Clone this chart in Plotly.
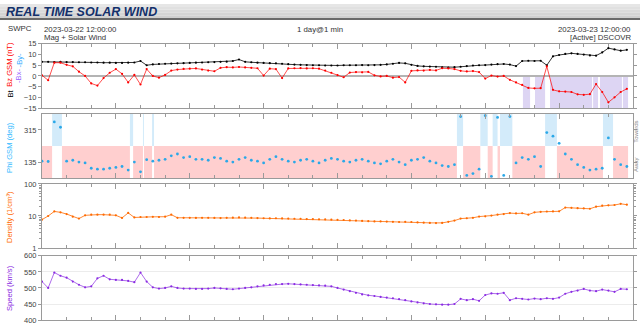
import pandas as pd
import plotly.graph_objects as go

# ---------------------------------------------------------------- data
START = "2023-03-22 12:00"
CADENCE = "15min"

bt = [6.6, 6.6, 6.5, 6.6, 6.5, 6.5, 6.4, 6.4, 6.3, 6.3,
      6.2, 6.2, 6.1, 6.1, 6.2, 6.3, 7.0, 5.0, 5.4, 5.6,
      5.7, 5.8, 5.9, 6.0, 6.1, 6.2, 6.3, 6.4, 6.5, 6.6,
      6.7, 7.0, 7.7, 6.6, 6.4, 6.2, 6.1, 6.0, 5.9, 5.7,
      5.5, 5.3, 5.2, 5.1, 5.0, 5.0, 4.9, 4.9, 4.9, 5.0,
      5.0, 5.0, 5.1, 5.0, 5.1, 5.2, 5.4, 5.7, 6.1, 5.9,
      5.2, 4.7, 4.5, 4.4, 4.3, 4.0, 3.9, 4.1, 4.3, 4.6,
      4.9, 5.0, 5.1, 5.3, 5.5, 5.6, 5.3, 4.6, 7.0, 7.1,
      7.0, 7.1, 5.0, 9.2, 9.8, 10.3, 10.6, 10.3, 10.0, 9.6,
      9.5, 11.0, 13.0, 12.4, 11.8, 12.2]

bz = [0.3, -2.0, 6.2, 6.2, 5.2, 4.5, 2.0, 0.0, -3.5, -4.5,
      -1.0, 1.5, 3.2, 1.0, -3.0, 0.5, -4.0, 3.2, 0.0, -0.8,
      0.5, 2.5, 3.0, 3.3, 3.4, 3.5, 3.0, 2.5, 2.2, 3.8,
      4.1, 4.0, 4.2, 4.0, 3.8, 3.6, 0.2, 3.4, 3.2, -1.0,
      3.5, 3.6, 3.7, 3.5, 3.6, 3.4, 2.5, 1.5, 0.4, -0.6,
      1.6, 1.8, 1.7, 1.9, 0.3, -0.2, 0.0, -0.8, -0.5, -3.0,
      2.4, 2.6, 2.5, 2.8, 2.6, 3.6, 3.5, 3.2, 2.4, 2.1,
      2.3, 1.8, -1.2, 0.2, -0.3, 0.0, -1.8, -3.0, -4.2, -5.6,
      -5.8, -5.7, 4.5, -6.5, -7.2, -7.3, -7.5, -8.6, -8.8, -8.5,
      -3.8, -7.5, -12.3, -10.0, -7.5, -6.0]

phi = [140, 138, 360, 330, 140, 145, 135, 130, 100, 95,
       95, 100, 105, 110, 90, 135, 80, 148, 140, 145,
       150, 170, 180, 160, 165, 150, 150, 145, 160, 155,
       140, 135, 150, 160, 145, 140, 130, 150, 165, 150,
       140, 135, 145, 150, 140, 130, 145, 155, 150, 140,
       135, 145, 150, 140, 130, 125, 140, 150, 135, 120,
       145, 150, 160, 140, 130, 115, 110, 120, 390, 60,
       70, 95, 395, 55, 385, 60, 390, 130, 160, 150,
       165, 110, 300, 280, 240, 180, 150, 120, 105, 90,
       95, 100, 270, 150, 120, 110]

density = [7.7, 10.0, 13.9, 13.0, 11.5, 9.5, 8.3, 10.5, 11.0, 11.0,
           11.0, 11.0, 10.5, 8.7, 12.5, 9.0, 9.3, 9.3, 9.4, 9.3,
           9.5, 11.0, 8.8, 8.8, 8.8, 8.7, 8.8, 8.8, 8.7, 8.6,
           8.8, 8.9, 9.0, 8.9, 8.8, 8.6, 8.5, 8.4, 8.5, 8.4,
           8.3, 8.2, 8.2, 8.0, 8.0, 7.9, 7.8, 7.7, 7.6, 7.5,
           7.3, 7.2, 7.0, 6.9, 6.8, 6.8, 6.7, 6.6, 6.5, 6.6,
           6.5, 6.3, 6.2, 6.1, 6.0, 6.1, 6.6, 7.2, 8.3, 8.5,
           8.8, 9.6, 9.8, 10.3, 11.0, 11.5, 12.3, 12.0, 12.2, 11.0,
           13.0, 13.5, 13.8, 13.9, 14.0, 18.3, 18.0, 17.5, 17.2, 16.8,
           19.5, 21.0, 21.5, 22.0, 24.0, 22.5]

speed = [520, 500, 548, 538, 532, 520, 510, 502, 505, 530,
         538, 527, 525, 525, 522, 518, 548, 520, 502, 498,
         500, 505, 500, 498, 498, 497, 497, 498, 500, 499,
         497, 496, 498, 500, 502, 505, 508, 510, 512, 512,
         513, 512, 511, 510, 509, 508, 507, 505, 500, 495,
         490, 485, 480, 477, 475, 472, 470, 468, 465, 462,
         458, 455, 452, 450, 449, 448, 448, 450, 466, 462,
         465, 460, 478, 483, 482, 485, 462, 468, 466, 464,
         467, 465, 468, 466, 470, 482, 488, 492, 497, 492,
         490, 495, 492, 488, 497, 496]

# IMF sector shading (hours after start): toward sector intervals
toward_start = [0.41, 3.57, 4.10, 4.47, 16.85, 17.80, 18.30, 18.60, 20.43, 22.78]
toward_end = [0.81, 3.70, 4.14, 4.55, 17.10, 18.10, 18.50, 19.10, 20.91, 23.19]

# southward-field shading intervals (hours after start)
south_start = [19.53, 20.02, 20.63, 22.38, 22.66, 23.59]
south_end = [19.82, 20.43, 22.34, 22.58, 23.55, 23.80]

DATA_END_H = 23.8

# ---------------------------------------------------------------- figure
t0 = pd.Timestamp(START)
times = pd.date_range(START, periods=len(bt), freq=CADENCE)


def at(h):
    return t0 + pd.Timedelta(hours=h)


W, H = 640, 327
X0, X1 = 42, 633
PANELS = [(41, 107), (113, 179), (185, 251), (259, 325)]

FONT = "Liberation Sans, Arial, Helvetica, sans-serif"
AXIS_COL = "#9a9a9a"
TICK_COL = "#444444"


def py(p):
    return 1 - p / H


fig = go.Figure()

BT_COL = "#000000"
BZ_COL = "#ff0000"
PHI_COL = "#2aa8e8"
DEN_COL = "#ff6a00"
SPD_COL = "#8a2be2"

mk = dict(size=2.2)
fig.add_trace(go.Scatter(x=times, y=bt, mode="lines+markers", line=dict(color=BT_COL, width=0.8),
                         marker=dict(color=BT_COL, **mk), xaxis="x", yaxis="y"))
fig.add_trace(go.Scatter(x=times, y=bz, mode="lines+markers", line=dict(color=BZ_COL, width=0.7),
                         marker=dict(color=BZ_COL, **mk), xaxis="x", yaxis="y"))
fig.add_trace(go.Scatter(x=times, y=phi, mode="markers",
                         marker=dict(color=PHI_COL, size=2.8), xaxis="x2", yaxis="y2"))
fig.add_trace(go.Scatter(x=times, y=density, mode="lines+markers", line=dict(color=DEN_COL, width=0.8),
                         marker=dict(color=DEN_COL, **mk), xaxis="x3", yaxis="y3"))
fig.add_trace(go.Scatter(x=times, y=speed, mode="lines+markers", line=dict(color=SPD_COL, width=0.7),
                         marker=dict(color=SPD_COL, **mk), xaxis="x4", yaxis="y4"))

shapes = []
# away sector band, interrupted where the field is in the toward sector
edges = [0.0]
for s, e in zip(toward_start, toward_end):
    edges += [s, e]
edges.append(DATA_END_H)
for k in range(0, len(edges), 2):
    shapes.append(dict(type="rect", xref="x2", yref="y2", x0=at(edges[k]), x1=at(edges[k + 1]),
                       y0=45, y1=225, fillcolor="#ffcfcf", line_width=0, layer="below"))
for s, e in zip(toward_start, toward_end):
    shapes.append(dict(type="rect", xref="x2", yref="y2", x0=at(s), x1=at(e),
                       y0=225, y1=405, fillcolor="#d3ebfa", line_width=0, layer="below"))
for s, e in zip(south_start, south_end):
    shapes.append(dict(type="rect", xref="x", yref="y", x0=at(s), x1=at(e),
                       y0=-15, y1=0, fillcolor="#ddd5f3", line_width=0, layer="below"))

# header banner
banner = ["#e6e6e6", "#e0e0e0", "#dadada", "#d4d4d4", "#cfcfcf"]
for k, c in enumerate(banner):
    shapes.append(dict(type="rect", xref="paper", yref="paper", x0=0, x1=1,
                       y0=py(3 * (k + 1)), y1=py(3 * k), fillcolor=c, line_width=0, layer="below"))
shapes.append(dict(type="line", xref="paper", yref="paper", x0=0, x1=1, y0=py(15.5), y1=py(15.5),
                   line=dict(color="#6a6a6a", width=2)))

HDR = dict(size=7.8, color="#333")
TTL = 7.6
annotations = [
    dict(text="REAL TIME SOLAR WIND", x=4 / W, y=py(8), xanchor="left", yanchor="middle",
         font=dict(family="Liberation Sans Narrow, Arial Narrow, Liberation Sans, Arial", size=12.5,
                   color="#13306b", weight="bold", style="italic")),
    dict(text="SWPC", x=6 / W, y=py(25), xanchor="left", yanchor="middle", font=dict(HDR)),
    dict(text="2023-03-22 12:00:00", x=X0 / W, y=py(26), xanchor="left", yanchor="middle", font=dict(HDR)),
    dict(text="Mag + Solar Wind", x=X0 / W, y=py(34), xanchor="left", yanchor="middle", font=dict(HDR)),
    dict(text="1 day@1 min", x=0.5, y=py(26), xanchor="center", yanchor="middle", font=dict(HDR)),
    dict(text="2023-03-23 12:00:00", x=X1 / W, y=py(26), xanchor="right", yanchor="middle", font=dict(HDR)),
    dict(text="[Active] DSCOVR", x=X1 / W, y=py(34), xanchor="right", yanchor="middle", font=dict(HDR)),
    # axis titles
    dict(text="Bt", x=10 / W, y=py(92), textangle=-90, xanchor="center", yanchor="middle",
         font=dict(size=TTL, color="#000")),
    dict(text="Bz GSM (nT)", x=10 / W, y=py(62.5), textangle=-90, xanchor="center", yanchor="middle",
         font=dict(size=TTL, color="#ff0000")),
    dict(text="-Bx-", x=19 / W, y=py(74), textangle=-90, xanchor="center", yanchor="middle",
         font=dict(size=TTL, color="#9966ff")),
    dict(text="-By-", x=19 / W, y=py(58), textangle=-90, xanchor="center", yanchor="middle",
         font=dict(size=TTL, color="#33aaff")),
    dict(text="Phi GSM (deg)", x=10 / W, y=py(148), textangle=-90, xanchor="center", yanchor="middle",
         font=dict(size=TTL, color="#33bbff")),
    dict(text="Density (1/cm\u00b3)", x=10 / W, y=py(219), textangle=-90, xanchor="center",
         yanchor="middle", font=dict(size=TTL, color=DEN_COL)),
    dict(text="Speed (km/s)", x=10 / W, y=py(292), textangle=-90, xanchor="center", yanchor="middle",
         font=dict(size=TTL, color=SPD_COL)),
    dict(text="Towards", x=636.5 / W, y=py(132), textangle=-90, xanchor="center", yanchor="middle",
         font=dict(size=6, color="#888")),
    dict(text="Away", x=636.5 / W, y=py(165), textangle=-90, xanchor="center", yanchor="middle",
         font=dict(size=6, color="#888")),
]
for a in annotations:
    a.update(xref="paper", yref="paper", showarrow=False)
    a["font"].setdefault("family", FONT)

layout = dict(
    width=W, height=H, margin=dict(l=0, r=0, t=0, b=0),
    paper_bgcolor="white", plot_bgcolor="white", showlegend=False,
    font=dict(family=FONT, size=7.5, color=TICK_COL),
    shapes=shapes, annotations=annotations,
)

x_range = [at(0), at(24)]
for k, (top, bot) in enumerate(PANELS):
    sfx = "" if k == 0 else str(k + 1)
    layout["xaxis" + sfx] = dict(
        domain=[X0 / W, X1 / W], anchor="y" + sfx, range=x_range, type="date",
        showticklabels=False, ticks="inside", ticklen=5, tickcolor=AXIS_COL,
        tick0=at(0), dtick=3 * 3600000,
        minor=dict(dtick=3600000, ticklen=3, ticks="inside", tickcolor=AXIS_COL),
        showline=True, linecolor=AXIS_COL, linewidth=1, mirror="ticks",
        showgrid=False, zeroline=False,
    )
    layout["yaxis" + sfx] = dict(
        domain=[py(bot), py(top)], anchor="x" + sfx,
        showline=True, linecolor=AXIS_COL, linewidth=1, mirror="ticks",
        ticks="outside", ticklen=3, tickcolor=AXIS_COL, showgrid=False, zeroline=False,
        tickfont=dict(size=7.5, color=TICK_COL),
    )

layout["yaxis"].update(range=[-15, 15], tickvals=[-15, -10, -5, 0, 5, 10, 15],
                       zeroline=True, zerolinecolor="#b4b4b4", zerolinewidth=2)
layout["yaxis2"].update(range=[45, 405], tickvals=[135, 315])
layout["yaxis3"].update(type="log", range=[0, 2], tickvals=[1, 10, 100],
                        minor=dict(ticks="outside", ticklen=2, tickcolor=AXIS_COL, dtick="D1"))
layout["yaxis4"].update(range=[400, 600], tickvals=[400, 450, 500, 550, 600],
                        showgrid=True, gridcolor="#ececec", gridwidth=1)

fig.update_layout(**layout)
fig.write_html("out.html")
